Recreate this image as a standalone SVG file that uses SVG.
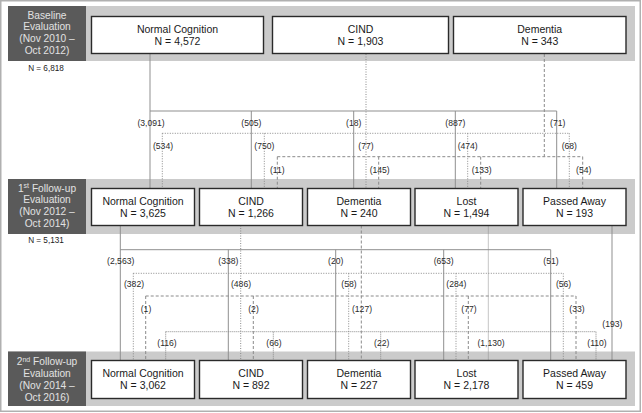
<svg xmlns="http://www.w3.org/2000/svg" width="642" height="413" viewBox="0 0 642 413">
<style>
.band{fill:#cbcbcb}
.lab{fill:#5a5a5a}
.labt{font-family:"Liberation Sans",Arial,sans-serif;font-size:10.2px;fill:#e2e2e2;text-anchor:middle}
.box{fill:#fff;stroke:#2a2a2a;stroke-width:1.4}
.bt{font-family:"Liberation Sans",Arial,sans-serif;font-size:10.5px;fill:#1a1a1a;text-anchor:middle}
.tot{font-family:"Liberation Sans",Arial,sans-serif;font-size:8.2px;fill:#222;text-anchor:middle}
.cl{font-family:"Liberation Sans",Arial,sans-serif;font-size:8.6px;fill:#2a2a2a;text-anchor:middle}
.s{fill:none;stroke:#8f8f8f;stroke-width:1}
.d{fill:none;stroke:#8a8a8a;stroke-width:1;stroke-dasharray:1 1.5}
.h{fill:none;stroke:#8a8a8a;stroke-width:1;stroke-dasharray:3 2}
.l{fill:none;stroke:#8a8a8a;stroke-width:1;stroke-dasharray:1 1}
</style>
<rect x="0.75" y="0.75" width="639.5" height="410.5" fill="#fff" stroke="#b0b0b0" stroke-width="1.5"/>

<g id="band-baseline">
<rect class="band" x="8" y="6" width="627" height="55"/>
<rect class="lab" x="8" y="6" width="78" height="55"/>
<text class="labt" x="47" y="18.8">Baseline</text>
<text class="labt" x="47" y="30.4">Evaluation</text>
<text class="labt" x="47" y="42">(Nov 2010 –</text>
<text class="labt" x="47" y="53.5">Oct 2012)</text>
<text class="tot" x="46" y="70.5">N = 6,818</text>
</g>
<g id="band-fu1">
<rect class="band" x="8" y="179" width="627" height="55"/>
<rect class="lab" x="8" y="179" width="78" height="55"/>
<text class="labt" x="47" y="191.5">1<tspan font-size="7" dy="-3.5">st</tspan><tspan dy="3.5"> Follow-up</tspan></text>
<text class="labt" x="47" y="203.2">Evaluation</text>
<text class="labt" x="47" y="214.8">(Nov 2012 –</text>
<text class="labt" x="47" y="226.6">Oct 2014)</text>
<text class="tot" x="46" y="242.5">N = 5,131</text>
</g>
<g id="band-fu2">
<rect class="band" x="8" y="351.5" width="627" height="54.5"/>
<rect class="lab" x="8" y="351.5" width="78" height="54.5"/>
<text class="labt" x="47" y="365">2<tspan font-size="7" dy="-3.5">nd</tspan><tspan dy="3.5"> Follow-up</tspan></text>
<text class="labt" x="47" y="377">Evaluation</text>
<text class="labt" x="47" y="388.8">(Nov 2014 –</text>
<text class="labt" x="47" y="400.6">Oct 2016)</text>
</g>

<g id="connectors">
<!-- baseline to 1st follow-up -->
<path class="s" d="M150,54 V188.5 M150,111 H556.7 M251.3,111 V188.5 M353.7,111 V188.5 M455.3,111 V188.5 M556.7,111 V188.5"/>
<path class="d" d="M366,54 V188.5 M162.3,133.3 H569.3 M162.3,133.3 V188.5 M264.3,133.3 V188.5 M467.7,133.3 V188.5 M569.3,133.3 V188.5"/>
<path class="h" d="M544.3,54 V156.7 M277.3,156.7 H582.7 M277.3,156.7 V188.5 M378.7,156.7 V188.5 M480.7,156.7 V188.5 M582.7,156.7 V188.5"/>
<!-- 1st to 2nd follow-up -->
<path class="s" d="M120.3,225.5 V360.5 M120.3,249.7 H550.7 M228.3,249.7 V360.5 M335.7,249.7 V360.5 M443.7,249.7 V360.5 M550.7,249.7 V360.5"/>
<path class="d" d="M240.7,225.5 V360.5 M133.3,273.3 H563.3 M133.3,273.3 V360.5 M348.7,273.3 V360.5 M456,273.3 V360.5 M563.3,273.3 V360.5"/>
<path class="h" d="M361.3,225.5 V360.5 M145.7,296 H576 M145.7,296 V360.5 M253.3,296 V360.5 M468.3,296 V360.5 M576,296 V360.5"/>
<path class="l" d="M488.3,225.5 V360.5 M165.7,331.7 H596 M165.7,331.7 V360.5 M273.3,331.7 V360.5 M380.7,331.7 V360.5 M596,331.7 V360.5"/>
<path class="s" d="M612,225.5 V360.5"/>
<!-- labels -->
<text class="cl" x="151" y="125.7">(3,091)</text>
<text class="cl" x="251.3" y="125.7">(505)</text>
<text class="cl" x="353.7" y="125.7">(18)</text>
<text class="cl" x="455.3" y="125.7">(887)</text>
<text class="cl" x="557.7" y="125.7">(71)</text>
<text class="cl" x="163" y="149">(534)</text>
<text class="cl" x="264.3" y="149">(750)</text>
<text class="cl" x="366" y="149">(77)</text>
<text class="cl" x="467.7" y="149">(474)</text>
<text class="cl" x="569.3" y="149">(68)</text>
<text class="cl" x="277.3" y="173">(11)</text>
<text class="cl" x="379.7" y="173">(145)</text>
<text class="cl" x="481.7" y="173">(133)</text>
<text class="cl" x="583.7" y="173">(54)</text>
<text class="cl" x="120.7" y="263.7">(2,563)</text>
<text class="cl" x="228.3" y="263.7">(338)</text>
<text class="cl" x="335.7" y="263.7">(20)</text>
<text class="cl" x="443.7" y="263.7">(653)</text>
<text class="cl" x="551" y="263.7">(51)</text>
<text class="cl" x="134" y="287.3">(382)</text>
<text class="cl" x="241" y="287.3">(486)</text>
<text class="cl" x="349" y="287.3">(58)</text>
<text class="cl" x="456.3" y="287.3">(284)</text>
<text class="cl" x="563.6" y="287.3">(56)</text>
<text class="cl" x="146" y="312">(1)</text>
<text class="cl" x="253.5" y="312">(2)</text>
<text class="cl" x="362" y="312">(127)</text>
<text class="cl" x="469" y="312">(77)</text>
<text class="cl" x="577" y="312">(33)</text>
<text class="cl" x="612.3" y="326.5">(193)</text>
<text class="cl" x="167" y="346.3">(116)</text>
<text class="cl" x="274" y="346.3">(66)</text>
<text class="cl" x="381.7" y="346.3">(22)</text>
<text class="cl" x="491" y="346.3">(1,130)</text>
<text class="cl" x="597" y="346.3">(110)</text>
</g>

<g id="b0-nc"><rect class="box" x="91.5" y="16.5" width="172" height="37"/><text class="bt" x="177.5" y="33">Normal Cognition</text><text class="bt" x="177.5" y="45.3">N = 4,572</text></g>
<g id="b0-cind"><rect class="box" x="272.5" y="16.5" width="176" height="37"/><text class="bt" x="360.5" y="33">CIND</text><text class="bt" x="360.5" y="45.3">N = 1,903</text></g>
<g id="b0-dem"><rect class="box" x="453.5" y="16.5" width="172.5" height="37"/><text class="bt" x="539.7" y="33">Dementia</text><text class="bt" x="539.7" y="45.3">N = 343</text></g>

<g id="b1-nc"><rect class="box" x="91.5" y="188.5" width="103" height="37"/><text class="bt" x="143" y="205">Normal Cognition</text><text class="bt" x="143" y="217">N = 3,625</text></g>
<g id="b1-cind"><rect class="box" x="199.5" y="188.5" width="103" height="37"/><text class="bt" x="251" y="205">CIND</text><text class="bt" x="251" y="217">N = 1,266</text></g>
<g id="b1-dem"><rect class="box" x="307.5" y="188.5" width="103" height="37"/><text class="bt" x="359" y="205">Dementia</text><text class="bt" x="359" y="217">N = 240</text></g>
<g id="b1-lost"><rect class="box" x="415" y="188.5" width="103" height="37"/><text class="bt" x="466.5" y="205">Lost</text><text class="bt" x="466.5" y="217">N = 1,494</text></g>
<g id="b1-pa"><rect class="box" x="523" y="188.5" width="103" height="37"/><text class="bt" x="574.5" y="205">Passed Away</text><text class="bt" x="574.5" y="217">N = 193</text></g>

<g id="b2-nc"><rect class="box" x="91.5" y="360.5" width="103" height="38"/><text class="bt" x="143" y="377">Normal Cognition</text><text class="bt" x="143" y="389.2">N = 3,062</text></g>
<g id="b2-cind"><rect class="box" x="199.5" y="360.5" width="103" height="38"/><text class="bt" x="251" y="377">CIND</text><text class="bt" x="251" y="389.2">N = 892</text></g>
<g id="b2-dem"><rect class="box" x="307.5" y="360.5" width="103" height="38"/><text class="bt" x="359" y="377">Dementia</text><text class="bt" x="359" y="389.2">N = 227</text></g>
<g id="b2-lost"><rect class="box" x="415" y="360.5" width="103" height="38"/><text class="bt" x="466.5" y="377">Lost</text><text class="bt" x="466.5" y="389.2">N = 2,178</text></g>
<g id="b2-pa"><rect class="box" x="523" y="360.5" width="103" height="38"/><text class="bt" x="574.5" y="377">Passed Away</text><text class="bt" x="574.5" y="389.2">N = 459</text></g>
</svg>
